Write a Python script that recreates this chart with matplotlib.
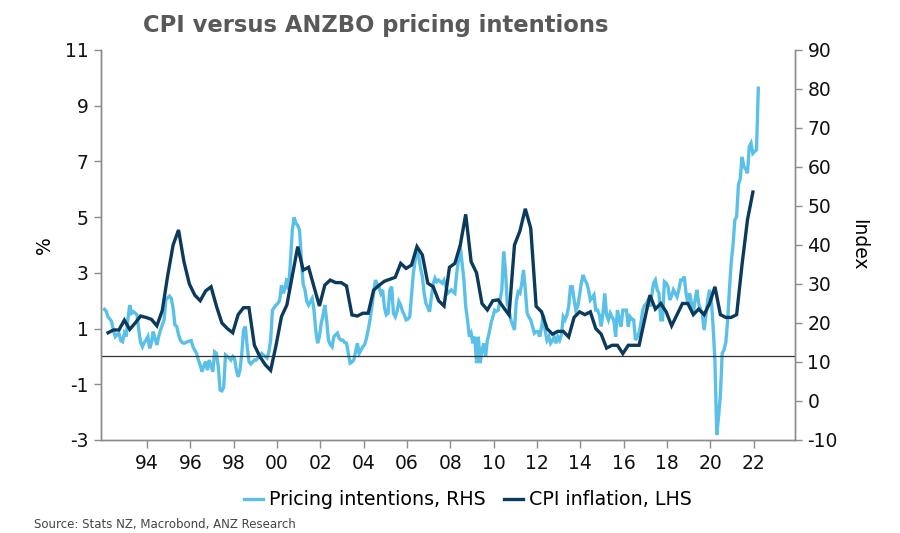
import numpy as np
import matplotlib.pyplot as plt

plt.rcParams['font.family'] = ['DejaVu Sans']
plt.rcParams['axes.unicode_minus'] = False

LIGHT = '#5bc0e8'
DARK = '#0b3a5c'
AXIS_GREY = '#8c8c8c'

# annual CPI inflation, % (quarterly, 1992Q1 to 2021Q4)
cpi = [
    0.85, 0.95, 0.95, 1.3,
    0.97, 1.2, 1.45, 1.4,
    1.33, 1.1, 1.65, 2.9,
    4.0, 4.54, 3.4, 2.6,
    2.2, 2.0, 2.35, 2.5,
    1.8, 1.2, 1.0, 0.85,
    1.5, 1.75, 1.75, 0.4,
    0.0, -0.3, -0.5, 0.4,
    1.43, 1.85, 2.9, 3.94,
    3.1, 3.2, 2.5, 1.81,
    2.56, 2.74, 2.65, 2.65,
    2.53, 1.49, 1.45, 1.55,
    1.55, 2.38, 2.55, 2.7,
    2.77, 2.84, 3.34, 3.16,
    3.28, 3.94, 3.64, 2.63,
    2.5, 2.0, 1.81, 3.2,
    3.34, 4.0, 5.1, 3.4,
    3.0, 1.9, 1.67, 2.0,
    2.03, 1.75, 1.49, 4.0,
    4.5, 5.3, 4.6, 1.8,
    1.6, 1.0, 0.8, 0.9,
    0.9, 0.7, 1.4, 1.6,
    1.5, 1.6, 1.0, 0.8,
    0.3, 0.4, 0.4, 0.1,
    0.4, 0.4, 0.4, 1.3,
    2.2, 1.7, 1.9, 1.6,
    1.1, 1.5, 1.9, 1.9,
    1.5, 1.7, 1.5, 1.9,
    2.5, 1.5, 1.4, 1.4,
    1.5, 3.3, 4.9, 5.9,
]

# ANZBO pricing intentions index (monthly, Jan 1992 to Mar 2022)
pricing = [
    23.5, 23.0, 21.5, 21.0, 20.3, 18.0, 16.5, 17.0, 17.4, 15.5, 15.2, 17.4,
    16.5, 21.2, 24.6, 22.5, 22.9, 22.5, 22.1, 18.2, 15.0, 13.9, 15.0, 15.6,
    16.5, 13.5, 15.0, 17.8, 16.0, 14.4, 16.5, 18.2, 19.5, 20.8, 25.9, 26.5,
    26.9, 26.3, 23.8, 19.5, 19.1, 17.0, 15.6, 15.0, 14.8, 15.0, 15.2, 15.4,
    15.5, 13.9, 13.0, 12.2, 10.5, 9.2, 7.5, 9.0, 10.1, 7.9, 10.5, 9.0,
    7.5, 12.6, 12.2, 8.8, 2.8, 2.6, 3.5, 11.8, 11.4, 11.0, 10.5, 11.4,
    10.9, 8.0, 6.2, 7.9, 12.0, 18.2, 19.1, 14.0, 10.1, 9.5, 10.0, 10.5,
    10.5, 11.0, 11.5, 12.2, 11.8, 11.4, 11.0, 12.5, 15.6, 23.3, 24.0, 24.6,
    25.0, 25.9, 29.7, 27.6, 29.0, 31.5, 28.5, 36.0, 43.8, 47.1, 45.6, 45.0,
    43.8, 36.2, 30.0, 28.5, 25.5, 24.6, 25.5, 26.3, 23.3, 18.0, 14.8, 16.5,
    19.9, 22.0, 24.6, 20.8, 15.6, 14.5, 13.9, 16.5, 17.0, 17.4, 16.0, 15.6,
    15.6, 15.0, 14.8, 12.2, 9.7, 10.0, 10.5, 12.5, 14.8, 12.2, 13.0, 13.9,
    14.4, 16.0, 18.2, 20.8, 24.0, 27.6, 31.0, 30.0, 29.3, 27.6, 28.5, 24.0,
    22.1, 22.5, 28.5, 29.3, 22.5, 21.6, 23.0, 25.5, 24.6, 23.0, 22.1, 20.8,
    21.0, 21.6, 27.0, 32.7, 36.0, 38.3, 37.0, 34.0, 31.9, 27.6, 25.0, 24.0,
    22.9, 26.7, 30.0, 31.5, 30.6, 31.0, 30.6, 30.2, 31.0, 29.5, 27.6, 28.0,
    28.5, 28.0, 27.6, 32.7, 36.0, 39.6, 35.3, 31.0, 24.2, 20.8, 16.5, 17.4,
    14.8, 16.5, 9.7, 16.5, 9.7, 13.0, 14.8, 11.4, 15.6, 17.5, 19.9, 21.5,
    23.3, 23.0, 23.3, 26.0, 28.5, 38.3, 33.6, 25.0, 23.3, 20.8, 19.5, 18.2,
    25.5, 28.0, 27.6, 30.0, 33.6, 28.5, 22.5, 21.5, 20.8, 19.1, 17.4, 17.8,
    17.8, 16.5, 19.0, 22.1, 18.0, 15.6, 16.5, 14.8, 15.5, 16.5, 14.8, 16.5,
    15.6, 17.0, 21.6, 20.8, 22.0, 24.2, 29.3, 29.3, 26.0, 23.3, 24.2, 27.0,
    30.2, 32.3, 31.0, 30.2, 28.5, 25.9, 26.5, 27.2, 23.3, 23.3, 22.0, 19.1,
    22.5, 27.6, 22.0, 20.8, 22.5, 21.5, 20.8, 16.5, 23.3, 21.0, 19.1, 23.3,
    23.3, 23.3, 19.1, 21.6, 21.0, 20.8, 15.6, 16.5, 17.5, 19.9, 23.3, 24.5,
    25.0, 25.9, 24.2, 27.0, 30.2, 31.0, 28.5, 27.6, 20.8, 20.8, 30.6, 30.2,
    29.3, 25.9, 27.0, 28.5, 27.6, 26.7, 28.5, 31.0, 31.0, 31.9, 27.6, 25.0,
    27.6, 25.0, 22.5, 26.0, 28.5, 25.0, 23.5, 22.5, 18.2, 22.0, 25.9, 28.5,
    25.9, 19.0, 10.0, -8.7, -4.0, 1.5, 12.2, 13.1, 15.0, 20.5, 28.5, 35.5,
    40.0, 46.4, 47.3, 55.5, 57.0, 62.6, 60.1, 59.5, 58.4, 65.2, 66.1, 63.5,
    64.0, 64.4, 80.2,
]

tick_years = list(range(1994, 2023, 2))
tick_labels = ['%02d' % (y % 100) for y in tick_years]

cpi_dates = 1992 + (np.arange(len(cpi)) * 3 + 2.5) / 12
pricing_dates = 1992 + (np.arange(len(pricing)) + 0.5) / 12

fig = plt.figure(figsize=(9, 5.33), dpi=100)
# host axes carries the RHS index so the CPI twin is drawn on top
ax_r = fig.add_axes([0.1122, 0.1745, 0.7711, 0.7317])
ax_l = ax_r.twinx()

ax_r.plot(pricing_dates, pricing, color=LIGHT, lw=2.4,
          label='Pricing intentions, RHS', solid_joinstyle='miter')
ax_l.plot(cpi_dates, cpi, color=DARK, lw=2.4,
          label='CPI inflation, LHS', solid_joinstyle='miter')
ax_l.axhline(0, color='#333333', lw=0.9, zorder=1)

ax_r.set_xlim(1991.88, 2023.9)
ax_l.set_ylim(-3, 11)
ax_l.set_yticks(range(-3, 12, 2))
ax_r.set_ylim(-10, 90)
ax_r.set_yticks(range(-10, 91, 10))
ax_r.set_xticks(tick_years)
ax_r.set_xticklabels(tick_labels)

ax_r.yaxis.tick_right()
ax_r.yaxis.set_label_position('right')
ax_l.yaxis.tick_left()
ax_l.yaxis.set_label_position('left')

for a in (ax_r, ax_l):
    a.spines['top'].set_visible(False)
    for s in ('left', 'right', 'bottom'):
        a.spines[s].set_color(AXIS_GREY)
        a.spines[s].set_linewidth(1.0)
    a.tick_params(direction='out', length=5, width=1.0, color=AXIS_GREY,
                  labelsize=13.5, labelcolor='#111111', pad=4)
ax_r.tick_params(axis='x', length=6)

ax_l.set_ylabel('%', fontsize=13.5, labelpad=8)
ax_r.set_ylabel('Index', fontsize=13.5, rotation=-90, labelpad=22)

fig.text(0.417, 0.953, 'CPI versus ANZBO pricing intentions', ha='center',
         va='center', fontsize=16.3, fontweight='bold', color='#595959')

h1, l1 = ax_r.get_legend_handles_labels()
h2, l2 = ax_l.get_legend_handles_labels()
fig.legend(h1 + h2, l1 + l2, loc='center', bbox_to_anchor=(0.52, 0.062),
           ncol=2, frameon=False, fontsize=13.7, handlelength=1.0,
           handletextpad=0.3, columnspacing=1.0)

# source line along the bottom edge
fig.text(0.038, 0.004, 'Source: Stats NZ, Macrobond, ANZ Research',
         ha='left', va='bottom', fontsize=8.5, color='#444444')

fig.savefig('out.png', dpi=100)
